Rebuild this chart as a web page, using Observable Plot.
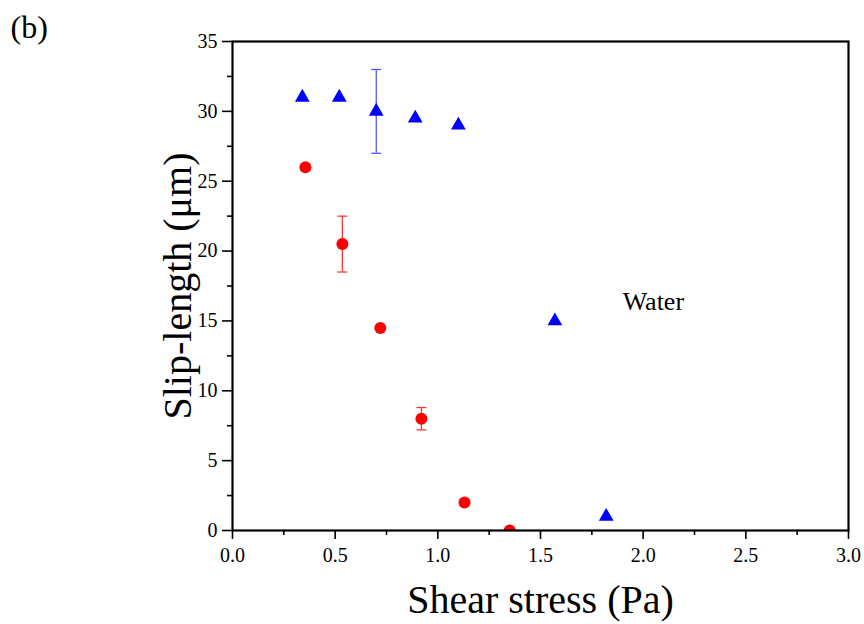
<!DOCTYPE html>
<html>
<head>
<meta charset="utf-8">
<script src="https://cdn.jsdelivr.net/npm/d3@7"></script>
<script src="https://cdn.jsdelivr.net/npm/@observablehq/plot@0.6"></script>
<style>
  html, body { margin: 0; padding: 0; background: white; }
  #chart svg { display: block; }
</style>
</head>
<body>
<div id="chart"></div>
<script>
// Water series (blue triangles)
const waterX = [0.34, 0.52, 0.70, 0.89, 1.10, 1.57, 1.82];
const waterY = [31, 31, 30, 29.5, 29, 15, 1];
const waterErr = [0, 0, 3, 0, 0, 0, 0];
// Second series (red circles)
const redX = [0.355, 0.535, 0.72, 0.92, 1.13, 1.35];
const redY = [26, 20.5, 14.5, 8, 2, 0];
const redErr = [0, 2, 0, 0.8, 0, 0];

const xMajor = [0, 0.5, 1.0, 1.5, 2.0, 2.5, 3.0];
const xMinor = [0.25, 0.75, 1.25, 1.75, 2.25, 2.75];
const yMajor = [0, 5, 10, 15, 20, 25, 30, 35];
const yMinor = [2.5, 7.5, 12.5, 17.5, 22.5, 27.5, 32.5];

const xLabel = "Shear stress (Pa)";
const yLabel = "Slip-length (\u03BCm)";
const panelLabel = "(b)";
const seriesLabel = [{x: 1.9, y: 16.35, text: "Water"}];

const water = waterX.map((x, i) => ({x, y: waterY[i], e: waterErr[i]}));
const red = redX.map((x, i) => ({x, y: redY[i], e: redErr[i]}));
const waterE = water.filter(d => d.e > 0);
const redE = red.filter(d => d.e > 0);

const capSymbol = {
  draw(ctx, size) {
    const r = Math.sqrt(size / Math.PI);
    ctx.moveTo(-r, 0);
    ctx.lineTo(r, 0);
  }
};

const blueErrC = "#4a4aff";
const redErrC = "#ff2a2a";
const serif = "'Liberation Serif', 'Times New Roman', serif";

const chart = Plot.plot({
  width: 864,
  height: 624,
  marginLeft: 232,
  marginRight: 16,
  marginTop: 41,
  marginBottom: 94,
  style: {fontFamily: serif, fontSize: "20px", background: "white", color: "black"},
  x: {domain: [0, 3]},
  y: {domain: [0, 35]},
  marks: [
    // error bars
    Plot.ruleX(waterE, {x: "x", y1: d => d.y - d.e, y2: d => d.y + d.e, stroke: blueErrC, strokeWidth: 1.2}),
    Plot.dot(waterE, {x: "x", y: d => d.y - d.e, symbol: capSymbol, r: 5, stroke: blueErrC, strokeWidth: 1.2, fill: "none"}),
    Plot.dot(waterE, {x: "x", y: d => d.y + d.e, symbol: capSymbol, r: 5, stroke: blueErrC, strokeWidth: 1.2, fill: "none"}),
    Plot.ruleX(redE, {x: "x", y1: d => d.y - d.e, y2: d => d.y + d.e, stroke: redErrC, strokeWidth: 1.2}),
    Plot.dot(redE, {x: "x", y: d => d.y - d.e, symbol: capSymbol, r: 5, stroke: redErrC, strokeWidth: 1.2, fill: "none"}),
    Plot.dot(redE, {x: "x", y: d => d.y + d.e, symbol: capSymbol, r: 5, stroke: redErrC, strokeWidth: 1.2, fill: "none"}),
    // points
    Plot.dot(water, {x: "x", y: "y", symbol: "triangle", r: 5.5, fill: "#0000ff", stroke: "none", clip: true}),
    Plot.dot(red, {x: "x", y: "y", symbol: "circle", r: 6, fill: "#ff0000", stroke: "none", clip: true}),
    // axes
    Plot.axisX({ticks: xMajor, tickSize: 9, tickPadding: 8, tickFormat: d3.format(".1f"), fontSize: 20, label: null, strokeWidth: 1.6, stroke: "black", fill: "black"}),
    Plot.axisX({ticks: xMinor, tickSize: 5, tickFormat: () => "", label: null, strokeWidth: 1.6, stroke: "black"}),
    Plot.axisY({ticks: yMajor, tickSize: 10, tickPadding: 5, tickFormat: d3.format("d"), fontSize: 20, label: null, strokeWidth: 1.6, stroke: "black", fill: "black"}),
    Plot.axisY({ticks: yMinor, tickSize: 5, tickFormat: () => "", label: null, strokeWidth: 1.6, stroke: "black"}),
    Plot.frame({stroke: "black", strokeWidth: 2.2}),
    // texts
    Plot.text(seriesLabel, {x: "x", y: "y", text: "text", textAnchor: "start", lineAnchor: "middle", fontSize: 26, fill: "black"}),
    Plot.text([xLabel], {frameAnchor: "bottom", dy: 70, fontSize: 40, lineAnchor: "middle", fill: "black"}),
    Plot.text([yLabel], {frameAnchor: "left", dx: -54, rotate: -90, fontSize: 40, lineAnchor: "middle", textAnchor: "middle", fill: "black"}),
    Plot.text([panelLabel], {frameAnchor: "top-left", dx: -222, dy: -14, fontSize: 32, textAnchor: "start", lineAnchor: "middle", fill: "black"})
  ]
});
document.getElementById("chart").appendChild(chart);
</script>
</body>
</html>
